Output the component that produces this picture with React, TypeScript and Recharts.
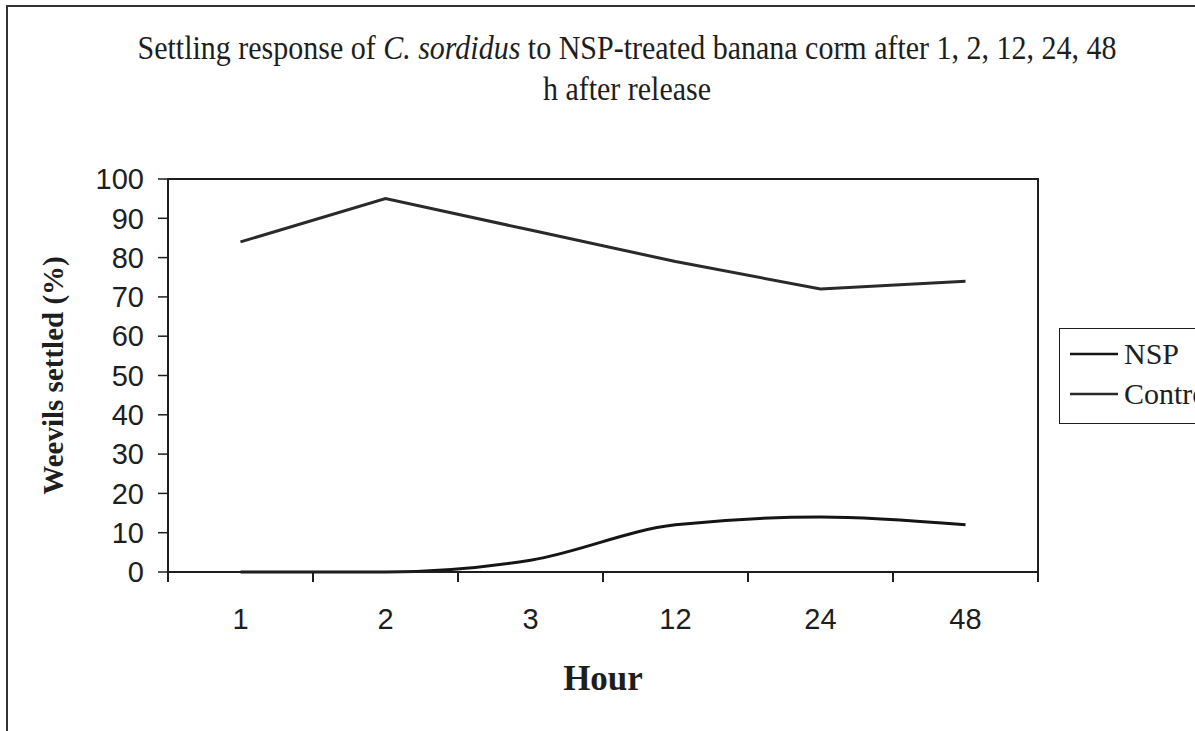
import { LineChart, Line, XAxis, YAxis, Legend, ReferenceArea } from 'recharts';

const hours = ['1', '2', '3', '12', '24', '48'];
const nspSettled = [0, 0, 3, 12, 14, 12];
const controlSettled = [84, 95, 87, 79, 72, 74];
const yTicks = [0, 10, 20, 30, 40, 50, 60, 70, 80, 90, 100];
const seriesOrder = ['NSP', 'Control'];

const data = hours.map((hour, i) => ({ hour, NSP: nspSettled[i], Control: controlSettled[i] }));

const SERIF = '"Liberation Serif", "Times New Roman", serif';
const SANS = '"Liberation Sans", Arial, sans-serif';
const INK = '#1e1e1e';

// category ticks sit between the bands, like the old Excel charts
// eslint-disable-next-line @typescript-eslint/no-explicit-any
const HourTick = (props: any) => {
    const { x, y, payload, index, visibleTicksCount } = props;
    const half = payload?.offset || 72.5;
    const last = index === (visibleTicksCount ?? hours.length) - 1;
    return (
        <g>
            <line x1={x - half} x2={x - half} y1={y} y2={y + 10} stroke={INK} strokeWidth={2} />
            {last && <line x1={x + half} x2={x + half} y1={y} y2={y + 10} stroke={INK} strokeWidth={2} />}
            <text x={x} y={y + 57} textAnchor="middle" fontFamily={SANS} fontSize={29} fill={INK}>
                {payload.value}
            </text>
        </g>
    );
};

// eslint-disable-next-line @typescript-eslint/no-explicit-any
const renderLegend = (props: any) => {
    const items = props.payload ?? [];
    const ordered = seriesOrder
        // eslint-disable-next-line @typescript-eslint/no-explicit-any
        .map((name) => items.find((it: any) => it.value === name || it.dataKey === name))
        .filter(Boolean);
    return (
        <div style={{ border: `1.5px solid ${INK}`, background: '#fff', width: 170, height: 96, boxSizing: 'border-box', padding: '5px 0 0 10px' }}>
            {/* eslint-disable-next-line @typescript-eslint/no-explicit-any */}
            {ordered.map((it: any) => (
                <div key={it.value} style={{ display: 'flex', alignItems: 'center', height: 40 }}>
                    <svg width={48} height={4} style={{ marginRight: 6 }}>
                        <line x1={0} x2={48} y1={2} y2={2} stroke={it.color} strokeWidth={2.5} />
                    </svg>
                    <span style={{ fontFamily: SERIF, fontSize: 30, color: INK, whiteSpace: 'nowrap' }}>{it.value}</span>
                </div>
            ))}
        </div>
    );
};

export default function App() {
    return (
        <div style={{ position: 'fixed', left: 0, top: 0, width: 1195, height: 731, overflow: 'hidden', background: '#fff' }}>
            <div style={{ position: 'absolute', left: 6, top: 5, width: 1400, height: 1000, border: '2px solid #333' }} />
            <svg width={1195} height={120} style={{ position: 'absolute', left: 0, top: 0 }}>
                <g transform="scale(1,1.1)" fontFamily={SERIF} fontSize={30} fill={INK}>
                    <text x={627} y={59 / 1.1} textAnchor="middle">
                        <tspan>Settling response of </tspan>
                        <tspan fontStyle="italic">C. sordidus</tspan>
                        <tspan> to NSP-treated banana corm after 1, 2, 12, 24, 48</tspan>
                    </text>
                    <text x={627} y={100 / 1.1} textAnchor="middle">h after release</text>
                </g>
            </svg>
            <div style={{ position: 'absolute', left: 0, top: 0 }}>
                <LineChart width={1300} height={731} data={data} margin={{ top: 179, right: 262, bottom: 89, left: 0 }}>
                    <XAxis
                        dataKey="hour"
                        scale="band"
                        interval={0}
                        height={70}
                        tickLine={false}
                        tickSize={0}
                        tickMargin={0}
                        axisLine={{ stroke: INK, strokeWidth: 2 }}
                        tick={<HourTick />}
                        label={{ value: 'Hour', position: 'bottom', offset: 23, style: { fontFamily: SERIF, fontWeight: 'bold', fontSize: 35, fill: INK } }}
                    />
                    <YAxis
                        width={168}
                        domain={[0, 100]}
                        ticks={yTicks}
                        interval={0}
                        tickSize={10}
                        tickMargin={14}
                        tickLine={{ stroke: INK, strokeWidth: 1.5 }}
                        axisLine={{ stroke: INK, strokeWidth: 2 }}
                        tick={{ fontFamily: SANS, fontSize: 29, fill: INK }}
                        label={{ value: 'Weevils settled (%)', angle: -90, position: 'insideLeft', offset: 53, style: { fontFamily: SERIF, fontWeight: 'bold', fontSize: 29, fill: INK, textAnchor: 'middle' } }}
                    />
                    <ReferenceArea x1="1" x2="48" y1={0} y2={100} fill="none" stroke={INK} strokeWidth={2} ifOverflow="visible" />
                    <Legend content={renderLegend} layout="vertical" align="center" verticalAlign="middle" wrapperStyle={{ left: 1059, top: 328, width: 'auto' }} />
                    <Line type="monotone" dataKey="NSP" stroke="#151515" strokeWidth={3} dot={false} isAnimationActive={false} />
                    <Line type="linear" dataKey="Control" stroke="#2a2a2a" strokeWidth={3} dot={false} isAnimationActive={false} />
                </LineChart>
            </div>
        </div>
    );
}
